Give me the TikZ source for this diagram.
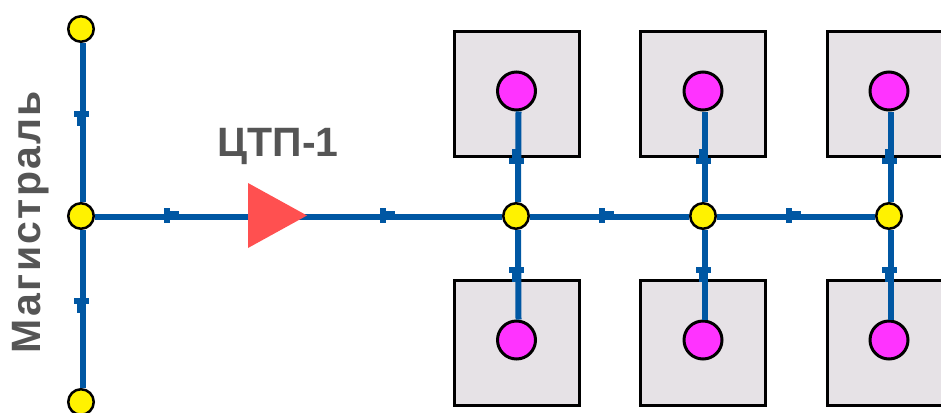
\documentclass[tikz,border=0pt]{standalone}
\usepackage{fontspec}
\setmainfont{Liberation Sans}
\usetikzlibrary{positioning,calc}

\begin{document}
\begin{tikzpicture}[
        x=1pt, y=-1pt,
        junction/.style={circle,draw=black,fill=yellow,line width=2.5pt,minimum size=25.5pt,inner sep=0pt},
        consumer/.style={circle,draw=black,fill=pinkdot,line width=3pt,minimum size=38pt,inner sep=0pt},
        house/.style={rectangle,draw=black,fill=housegray,line width=3pt,minimum size=125pt,inner sep=0pt},
        pipe/.style={pipeblue,line width=6pt},
        caption/.style={text=captiongray,font=\bfseries\fontsize{41pt}{41pt}\selectfont,inner sep=0pt},
        flowmark/.pic={
            \fill[pipeblue] (0,-7.5) rectangle (6,7.5);
            \fill[pipeblue] (6,-4.5) rectangle (15,4.5);
        },
    ]
    \definecolor{pipeblue}{RGB}{0,87,163}
    \definecolor{pinkdot}{RGB}{255,51,255}
    \definecolor{housegray}{RGB}{230,226,230}
    \definecolor{stationred}{RGB}{255,80,80}
    \definecolor{captiongray}{RGB}{85,85,85}
    \useasboundingbox (0,0) rectangle (941,412);
    % houses
    \foreach \col/\xx in {a/516.5,b/702.5,c/889.5}{
        \node[house] (top\col) at (\xx,94) {};
        \node[house] (low\col) at (\xx,343) {};
    }
    % main line nodes
    \node[junction] (nodeN) at (81,29) {};
    \node[junction] (nodeM) at (81,216) {};
    \node[junction] (nodeS) at (81,402) {};
    \node[junction] (nodeA) at (516,216) {};
    \node[junction] (nodeB) at (703,216) {};
    \node[junction] (nodeC) at (889,216) {};
    \foreach \col/\xx in {a/516.5,b/703,c/889}{
        \node[consumer] (dotT\col) at (\xx,91) {};
        \node[consumer] (dotL\col) at (\xx,340) {};
    }
    % pipes
    \draw[pipe] ([xshift=2pt]nodeN.south) -- ([xshift=2pt]nodeM.north);
    \draw[pipe] ([xshift=2pt]nodeM.south) -- ([xshift=2pt]nodeS.north);
    \draw[pipe] ([yshift=-1pt]nodeM.east) -- ([yshift=-1pt]nodeA.west);
    \draw[pipe] ([yshift=-1pt]nodeA.east) -- ([yshift=-1pt]nodeB.west);
    \draw[pipe] ([yshift=-1pt]nodeB.east) -- ([yshift=-1pt]nodeC.west);
    \foreach \col/\nn in {a/A,b/B,c/C}{
        \draw[pipe] ([xshift=2pt]node\nn.north) -- ([xshift=2pt]dotT\col.south);
        \draw[pipe] ([xshift=2pt]node\nn.south) -- ([xshift=2pt]dotL\col.north);
    }
    % flow marks
    \foreach \xx in {164,380,599,786}
        \pic at (\xx,215.5) {flowmark};
    \pic[rotate=-90] at (81.5,111) {flowmark};
    \pic[rotate=-90] at (81.5,298) {flowmark};
    \foreach \xx in {516.5,703,889.5}{
        \pic[rotate=90] at (\xx,164) {flowmark};
        \pic[rotate=-90] at (\xx,267) {flowmark};
    }
    % station
    \path[fill=stationred] (248,183) coordinate (st1) -- (307,215.5) coordinate (st2) -- (248,248) coordinate (st3) -- cycle;
    \node[caption] (stationlabel) at (278,146) {ЦТП-1};
    \node[caption,rotate=90] (mainlabel) at (31,222) {\addfontfeature{LetterSpace=5.6}Магистраль};
\end{tikzpicture}
\end{document}
